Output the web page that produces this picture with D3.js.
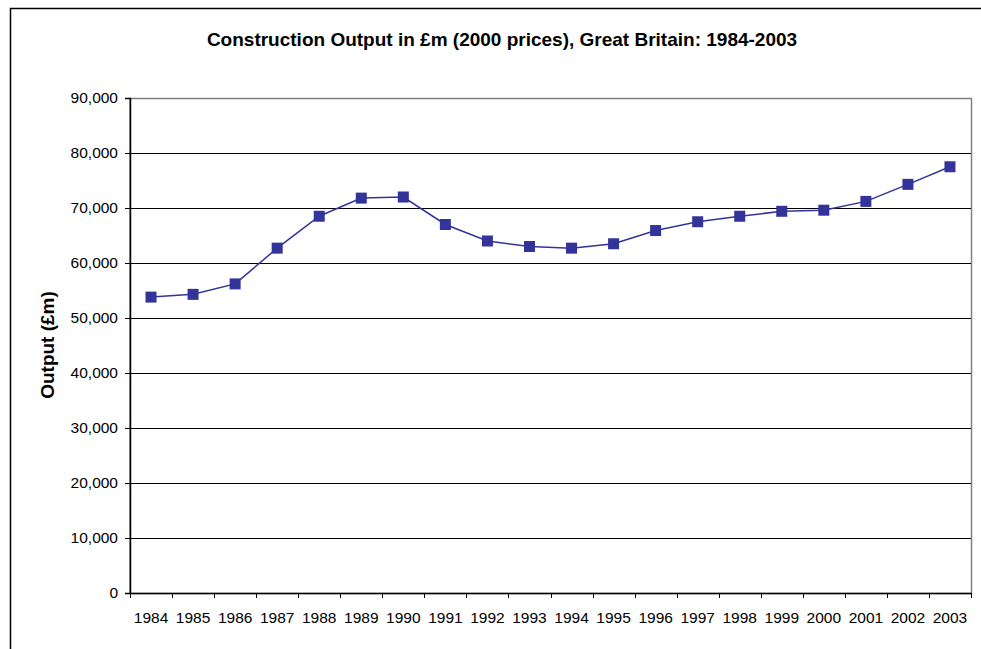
<!DOCTYPE html>
<html>
<head>
<meta charset="utf-8">
<script src="https://cdn.jsdelivr.net/npm/d3@7"></script>
<style>
  body { margin: 0; background: #fff; }
  text { font-family: "Liberation Sans", Arial, sans-serif; }
</style>
</head>
<body>
<div id="chart"></div>
<script>
// set dimensions
var width = 981
var height = 649
var margin = {top: 98, right: 10, bottom: 56, left: 130}
var plot_w = 971 - margin.left
var plot_h = 593 - margin.top

// data
var years = ["1984", "1985", "1986", "1987", "1988", "1989", "1990", "1991", "1992", "1993",
             "1994", "1995", "1996", "1997", "1998", "1999", "2000", "2001", "2002", "2003"]
var output = [53800, 54300, 56200, 62700, 68500, 71800, 72000, 67000, 64000, 63000,
              62700, 63500, 65900, 67500, 68500, 69400, 69600, 71200, 74300, 77500]
var y_ticks = [0, 10000, 20000, 30000, 40000, 50000, 60000, 70000, 80000, 90000]

var svg = d3.select("#chart")
  .append("svg")
  .attr("width", width)
  .attr("height", height);

// outer chart frame
svg.append("rect")
  .attr("x", 10.5)
  .attr("y", 8.5)
  .attr("width", 1000)
  .attr("height", 1000)
  .attr("fill", "none")
  .attr("stroke", "#000")
  .attr("stroke-width", 1.5);

// title
svg.append("text")
  .attr("x", 502)
  .attr("y", 46)
  .attr("text-anchor", "middle")
  .attr("font-size", "19px")
  .attr("font-weight", 700)
  .text("Construction Output in £m (2000 prices), Great Britain: 1984-2003");

var g = svg.append("g")
  .attr("transform", "translate(" + margin.left + "," + margin.top + ")");

// scales
var x = d3.scaleBand()
  .domain(years)
  .range([0, plot_w]);

var y = d3.scaleLinear()
  .domain([0, 90000])
  .range([plot_h, 0]);

// plot area border
g.append("rect")
  .attr("x", 0)
  .attr("y", 0.5)
  .attr("width", plot_w + 0.5)
  .attr("height", plot_h)
  .attr("fill", "#fff")
  .attr("stroke", "#808080")
  .attr("stroke-width", 1.5);

// gridlines
g.selectAll(".grid")
  .data(y_ticks.filter(function(d) { return d > 0 && d < 90000; }))
  .enter()
  .append("line")
  .attr("class", "grid")
  .attr("x1", 0)
  .attr("x2", plot_w)
  .attr("y1", function(d) { return Math.round(y(d)) + 0.5; })
  .attr("y2", function(d) { return Math.round(y(d)) + 0.5; })
  .attr("stroke", "#000")
  .attr("stroke-width", 1);

// y axis
var y_axis = g.append("g")
  .call(d3.axisLeft(y)
    .tickValues(y_ticks)
    .tickSize(5)
    .tickPadding(7)
    .tickFormat(d3.format(",")));
y_axis.select(".domain").attr("stroke", "#000").attr("stroke-width", 1.5);
y_axis.selectAll("text").attr("font-size", "15.5px").attr("fill", "#000")
  .style("font-family", "'Liberation Sans', Arial, sans-serif");

// x axis, ticks between categories
var x_axis = g.append("g")
  .attr("transform", "translate(0," + plot_h + ")")
  .call(d3.axisBottom(x).tickSize(0).tickPadding(19));
x_axis.select(".domain").attr("stroke", "#000").attr("stroke-width", 1.5);
x_axis.selectAll("text").attr("font-size", "15.5px").attr("fill", "#000")
  .style("font-family", "'Liberation Sans', Arial, sans-serif");

x_axis.selectAll(".cat-tick")
  .data(years.concat(["end"]))
  .enter()
  .append("line")
  .attr("class", "cat-tick")
  .attr("x1", function(d, i) { return Math.round(i * x.step()) + 0.5; })
  .attr("x2", function(d, i) { return Math.round(i * x.step()) + 0.5; })
  .attr("y1", 0)
  .attr("y2", 5)
  .attr("stroke", "#000")
  .attr("stroke-width", 1);

// y axis title
svg.append("text")
  .attr("transform", "translate(54,345) rotate(-90)")
  .attr("text-anchor", "middle")
  .attr("font-size", "19px")
  .attr("font-weight", 700)
  .text("Output (£m)");

// line
var line = d3.line()
  .x(function(d, i) { return x(years[i]) + x.bandwidth() / 2; })
  .y(function(d) { return y(d); });

g.append("path")
  .datum(output)
  .attr("d", line)
  .attr("fill", "none")
  .attr("stroke", "#333399")
  .attr("stroke-width", 1.5);

// markers
var ms = 11
g.selectAll(".marker")
  .data(output)
  .enter()
  .append("rect")
  .attr("class", "marker")
  .attr("x", function(d, i) { return x(years[i]) + x.bandwidth() / 2 - ms / 2; })
  .attr("y", function(d) { return y(d) - ms / 2; })
  .attr("width", ms)
  .attr("height", ms)
  .attr("fill", "#333399");
</script>
</body>
</html>
